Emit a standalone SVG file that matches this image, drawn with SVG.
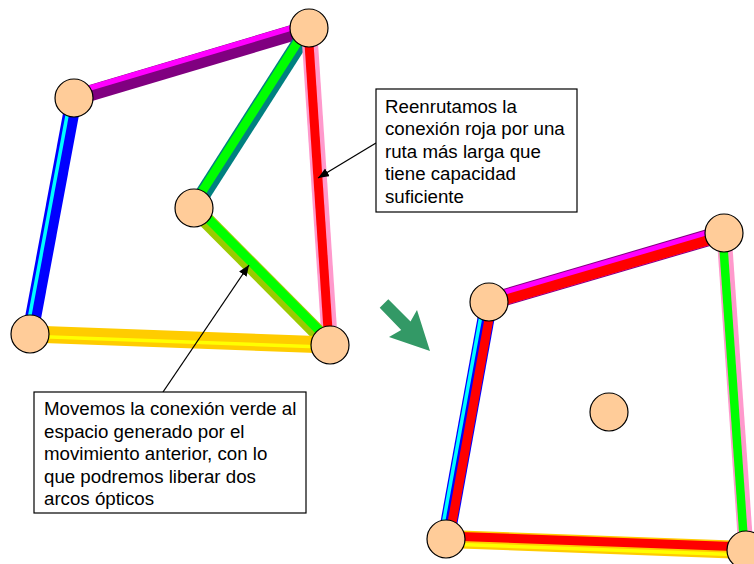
<svg xmlns="http://www.w3.org/2000/svg" width="754" height="564" viewBox="0 0 754 564">
  <defs>
    <style>
      .node { fill: #FFCC99; stroke: #000; stroke-width: 1.2; }
      .box { fill: #fff; stroke: #000; stroke-width: 1.2; }
      .txt { font-family: "Liberation Sans", Arial, sans-serif; font-size: 18.7px; fill: #000; }
      .call { stroke: #000; stroke-width: 1.3; fill: none; marker-end: url(#ah); }
      line { stroke-linecap: butt; }
    </style>
    <marker id="ah" markerUnits="userSpaceOnUse" markerWidth="12" markerHeight="10" refX="11" refY="4.5" orient="auto">
      <path d="M0,0 L11,4.5 L0,9 Z" fill="#000"/>
    </marker>
  </defs>
  <rect width="754" height="564" fill="#fff"/>

  <g id="connectors">
    <!-- left graph -->
    <g id="edge-A-B">
      <line x1="74" y1="98" x2="309" y2="28" stroke="#800080" stroke-width="16"/>
      <line x1="72.57" y1="93.21" x2="307.57" y2="23.21" stroke="#FF00FF" stroke-width="5.5"/>
    </g>
    <g id="edge-A-D">
      <line x1="74" y1="98" x2="30" y2="334" stroke="#0000FF" stroke-width="16"/>
      <line x1="70.46" y1="97.34" x2="26.46" y2="333.34" stroke="#00FFFF" stroke-width="3.5"/>
    </g>
    <g id="edge-B-C">
      <line x1="309" y1="28" x2="194" y2="208" stroke="#008080" stroke-width="16"/>
      <line x1="307.31" y1="26.92" x2="192.31" y2="206.92" stroke="#00FF00" stroke-width="9"/>
    </g>
    <g id="edge-B-E">
      <line x1="309" y1="28" x2="330" y2="345" stroke="#FF99CC" stroke-width="16"/>
      <line x1="308" y1="28.07" x2="329" y2="345.07" stroke="#FF0000" stroke-width="9"/>
    </g>
    <g id="edge-C-E">
      <line x1="194" y1="208" x2="330" y2="345" stroke="#99CC00" stroke-width="16"/>
      <line x1="195.78" y1="206.24" x2="331.78" y2="343.24" stroke="#00FF00" stroke-width="9"/>
    </g>
    <g id="edge-D-E">
      <line x1="30" y1="334" x2="330" y2="345" stroke="#FFCC00" stroke-width="17"/>
      <line x1="29.92" y1="336.2" x2="329.92" y2="347.2" stroke="#FFFF00" stroke-width="3.5"/>
    </g>
    <!-- right graph -->
    <g id="edge-F-G">
      <line x1="489" y1="302" x2="724" y2="233" stroke="#800080" stroke-width="17"/>
      <line x1="489" y1="302" x2="724" y2="233" stroke="#FF00FF" stroke-width="15"/>
      <line x1="489.71" y1="304.4" x2="724.71" y2="235.4" stroke="#FF0000" stroke-width="10"/>
    </g>
    <g id="edge-F-I">
      <line x1="489" y1="302" x2="446" y2="539" stroke="#0000FF" stroke-width="17"/>
      <line x1="483.59" y1="301.02" x2="440.59" y2="538.02" stroke="#00FFFF" stroke-width="3.5"/>
      <line x1="491.95" y1="302.53" x2="448.95" y2="539.53" stroke="#FF0000" stroke-width="9"/>
    </g>
    <g id="edge-G-J">
      <line x1="724" y1="233" x2="746" y2="550" stroke="#FF99CC" stroke-width="15"/>
      <line x1="722.5" y1="233.1" x2="744.5" y2="550.1" stroke="#00FF00" stroke-width="8.5"/>
    </g>
    <g id="edge-I-J">
      <line x1="446" y1="539" x2="746" y2="550" stroke="#FFCC00" stroke-width="18"/>
      <line x1="446.11" y1="536" x2="746.11" y2="547" stroke="#FF0000" stroke-width="9"/>
      <line x1="445.82" y1="544" x2="745.82" y2="555" stroke="#FFFF00" stroke-width="3.5"/>
    </g>
    <!-- callout pointers -->
    <line id="pointer-1" class="call" x1="376" y1="143" x2="318" y2="178"/>
    <line id="pointer-2" class="call" x1="163" y1="392" x2="249" y2="265"/>
  </g>

  <g id="node-A"><circle class="node" cx="74" cy="98" r="19"/></g>
  <g id="node-B"><circle class="node" cx="309" cy="28" r="19"/></g>
  <g id="node-C"><circle class="node" cx="194" cy="208" r="19"/></g>
  <g id="node-D"><circle class="node" cx="30" cy="334" r="19"/></g>
  <g id="node-E"><circle class="node" cx="330" cy="345" r="19"/></g>

  <g id="node-F"><circle class="node" cx="489" cy="302" r="19"/></g>
  <g id="node-G"><circle class="node" cx="724" cy="233" r="19"/></g>
  <g id="node-H"><circle class="node" cx="609" cy="412" r="19"/></g>
  <g id="node-I"><circle class="node" cx="446" cy="539" r="19"/></g>
  <g id="node-J"><circle class="node" cx="746" cy="550" r="19"/></g>

  <g id="transition-arrow">
    <polygon points="379.7,307.7 388.3,299.3 410.5,321.5 417,310 430,351 389,337 401.2,330" fill="#339966"/>
  </g>

  <g id="note-reroute">
    <rect class="box" x="376" y="89" width="201" height="123"/>
    <text class="txt" x="385">
      <tspan x="385" y="112.5">Reenrutamos la</tspan>
      <tspan x="385" y="135">conexión roja por una</tspan>
      <tspan x="385" y="157.5">ruta más larga que</tspan>
      <tspan x="385" y="180">tiene capacidad</tspan>
      <tspan x="385" y="202.5">suficiente</tspan>
    </text>
  </g>

  <g id="note-move">
    <rect class="box" x="34" y="392" width="272" height="121"/>
    <text class="txt" x="44">
      <tspan x="44" y="415">Movemos la conexión verde al</tspan>
      <tspan x="44" y="437.5">espacio generado por el</tspan>
      <tspan x="44" y="460">movimiento anterior, con lo</tspan>
      <tspan x="44" y="482.5">que podremos liberar dos</tspan>
      <tspan x="44" y="505">arcos ópticos</tspan>
    </text>
  </g>
</svg>
